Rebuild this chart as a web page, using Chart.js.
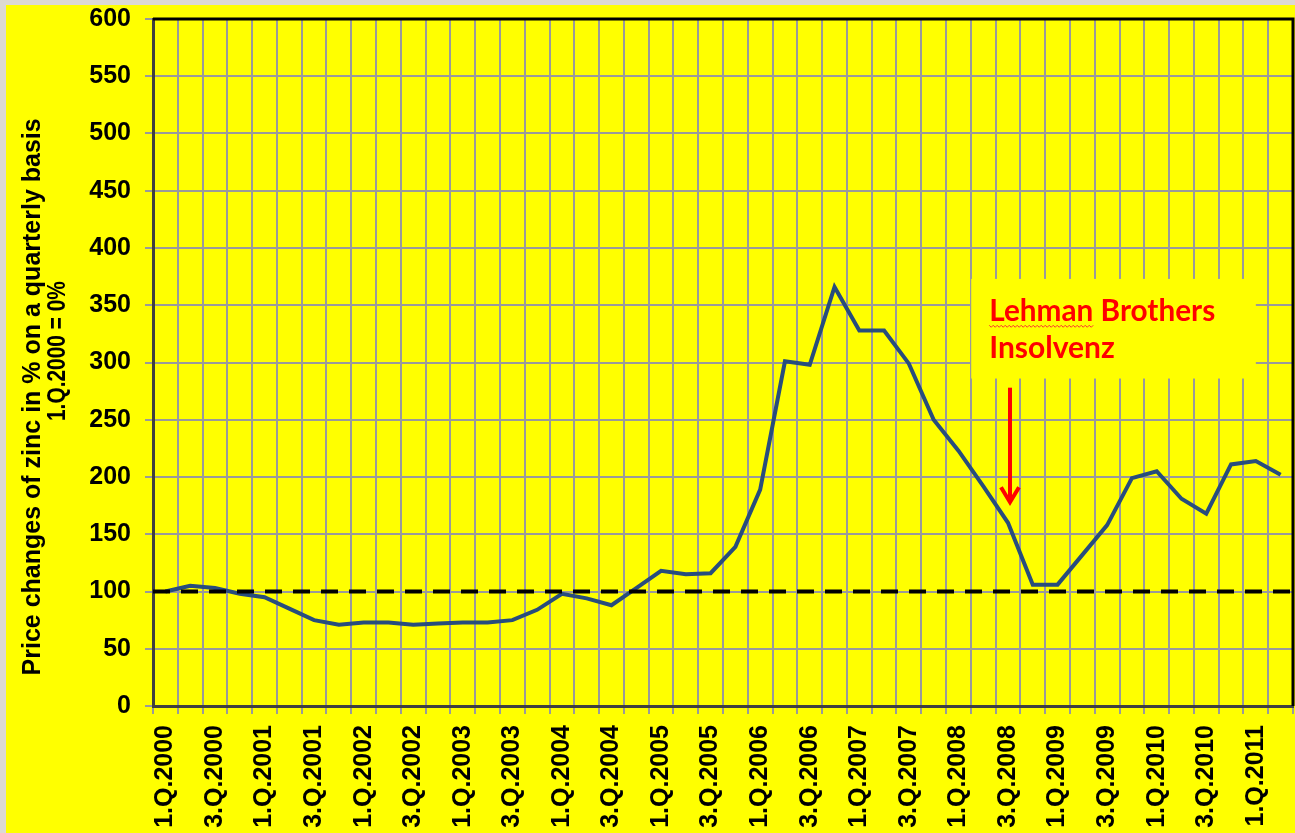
<!DOCTYPE html>
<html>
<head>
<meta charset="utf-8">
<title>Price changes of zinc</title>
<script src="https://cdn.jsdelivr.net/npm/chart.js@4.4.1/dist/chart.umd.min.js"></script>
<style>
  html, body { margin: 0; padding: 0; background: #ffff00; }
  canvas { display: block; }
</style>
</head>
<body>
<canvas id="zincChart" width="1295" height="833"></canvas>
<script>
// -----------------------------
// data
// -----------------------------
const quarters = [
  "1.Q.2000", "2.Q.2000", "3.Q.2000", "4.Q.2000",
  "1.Q.2001", "2.Q.2001", "3.Q.2001", "4.Q.2001",
  "1.Q.2002", "2.Q.2002", "3.Q.2002", "4.Q.2002",
  "1.Q.2003", "2.Q.2003", "3.Q.2003", "4.Q.2003",
  "1.Q.2004", "2.Q.2004", "3.Q.2004", "4.Q.2004",
  "1.Q.2005", "2.Q.2005", "3.Q.2005", "4.Q.2005",
  "1.Q.2006", "2.Q.2006", "3.Q.2006", "4.Q.2006",
  "1.Q.2007", "2.Q.2007", "3.Q.2007", "4.Q.2007",
  "1.Q.2008", "2.Q.2008", "3.Q.2008", "4.Q.2008",
  "1.Q.2009", "2.Q.2009", "3.Q.2009", "4.Q.2009",
  "1.Q.2010", "2.Q.2010", "3.Q.2010", "4.Q.2010",
  "1.Q.2011", "2.Q.2011"
];

// price change of zinc, 1.Q.2000 = 100
const zincChange = [
  100, 105, 103, 98, 95, 85, 75, 71, 73, 73,
  71, 72, 73, 73, 75, 84, 98, 94, 88, 103,
  118, 115, 116, 139, 189, 301, 298, 366, 328, 328,
  299, 250, 223, 192, 160, 106, 106, 132, 158, 199,
  205, 181, 168, 211, 214, 202
];

const yMin = 0;
const yMax = 600;
const yStep = 50;
const baseline = 100;

const titleLines = ["Price changes of zinc in % on a quarterly basis", "1.Q.2000 = 0%"];
const noteLines = ["Lehman Brothers", "Insolvenz"];
const noteQuarter = 34; // 3.Q.2008

const axisFont = "Arial, 'Liberation Sans', sans-serif";

// chart.js adds its own label padding, we want the plot box fixed
function noScalePadding(scale) {
  scale.paddingTop = 0;
  scale.paddingBottom = 0;
  scale.paddingLeft = 0;
  scale.paddingRight = 0;
}

// -----------------------------
// plugins
// -----------------------------
const backgroundPlugin = {
  id: "background",
  beforeDraw(chart) {
    const ctx = chart.ctx;
    ctx.save();
    ctx.fillStyle = "#ffff00";
    ctx.fillRect(0, 0, chart.width, chart.height);
    ctx.fillStyle = "#dcd9d3";
    ctx.fillRect(0, 0, chart.width, 5);
    ctx.fillRect(0, 0, 6, chart.height);
    ctx.restore();
  }
};

// dashed 100 line + top/right frame
const baselinePlugin = {
  id: "baseline",
  afterDatasetsDraw(chart) {
    const { ctx, chartArea, scales } = chart;
    const y = scales.y.getPixelForValue(baseline);
    ctx.save();
    ctx.strokeStyle = "#000";
    ctx.lineWidth = 4;
    ctx.setLineDash([17, 11]);
    ctx.beginPath();
    ctx.moveTo(chartArea.left, y);
    ctx.lineTo(chartArea.right, y);
    ctx.stroke();

    ctx.setLineDash([]);
    ctx.lineWidth = 3;
    ctx.beginPath();
    ctx.moveTo(chartArea.left, chartArea.top);
    ctx.lineTo(chartArea.right, chartArea.top);
    ctx.lineTo(chartArea.right, chartArea.bottom);
    ctx.stroke();
    ctx.restore();
  }
};

// y axis title (two lines, not centred on each other)
const titlePlugin = {
  id: "yTitle",
  afterDraw(chart) {
    const ctx = chart.ctx;
    const y = chart.scales.y;
    ctx.save();
    ctx.fillStyle = "#000";
    ctx.font = "bold 25px " + axisFont;
    ctx.textAlign = "center";
    ctx.textBaseline = "middle";
    ctx.translate(33, y.getPixelForValue(270));
    ctx.rotate(-Math.PI / 2);
    ctx.fillText(titleLines[0], 0, 0);
    ctx.restore();

    ctx.save();
    ctx.fillStyle = "#000";
    ctx.font = "bold 25px " + axisFont;
    ctx.textAlign = "center";
    ctx.textBaseline = "middle";
    ctx.translate(58, y.getPixelForValue(310));
    ctx.rotate(-Math.PI / 2);
    ctx.fillText(titleLines[1], 0, 0, 140);
    ctx.restore();
  }
};

// Lehman Brothers text box + red arrow
const notePlugin = {
  id: "note",
  afterDraw(chart) {
    const { ctx, scales } = chart;
    const x = scales.x, y = scales.y;
    const left = x.getPixelForValue(noteQuarter - 1) - 12;
    const right = x.getPixelForValue(noteQuarter + 10);
    const top = y.getPixelForValue(373);
    const bottom = y.getPixelForValue(286);

    ctx.save();
    ctx.fillStyle = "#ffff00";
    ctx.fillRect(left, top, right - left, bottom - top);

    ctx.fillStyle = "#ff0000";
    ctx.font = "bold 30px Lato, 'Open Sans', sans-serif";
    ctx.textAlign = "left";
    ctx.textBaseline = "alphabetic";
    const tx = left + 18;
    const line1 = y.getPixelForValue(336);
    ctx.fillText(noteLines[0], tx, line1, 226);
    ctx.fillText(noteLines[1], tx, y.getPixelForValue(304));

    // spell-check squiggle under "Lehman"
    const w = Math.min(ctx.measureText("Lehman").width, 110);
    ctx.strokeStyle = "#ff3030";
    ctx.lineWidth = 1;
    ctx.beginPath();
    for (let i = 0; i <= w; i += 2) {
      const yy = line1 + 4 + (i % 4 === 0 ? 0 : 2);
      if (i === 0) ctx.moveTo(tx + i, yy);
      else ctx.lineTo(tx + i, yy);
    }
    ctx.stroke();

    // arrow
    const ax = x.getPixelForValue(noteQuarter) + 2;
    const ay1 = y.getPixelForValue(278);
    const ay2 = y.getPixelForValue(178);
    ctx.strokeStyle = "#ff0000";
    ctx.lineWidth = 4;
    ctx.beginPath();
    ctx.moveTo(ax, ay1);
    ctx.lineTo(ax, ay2);
    ctx.stroke();
    ctx.beginPath();
    ctx.moveTo(ax - 9, ay2 - 15);
    ctx.lineTo(ax, ay2);
    ctx.lineTo(ax + 9, ay2 - 15);
    ctx.stroke();
    ctx.restore();
  }
};

// -----------------------------
// chart
// -----------------------------
new Chart(document.getElementById("zincChart"), {
  type: "line",
  data: {
    labels: quarters,
    datasets: [{
      data: zincChange,
      borderColor: "#284d7d",
      borderWidth: 4,
      pointRadius: 0,
      tension: 0,
      fill: false
    }]
  },
  options: {
    responsive: false,
    animation: false,
    devicePixelRatio: 1,
    layout: { padding: { left: 6, top: 19, right: 2, bottom: 0 } },
    plugins: {
      legend: { display: false },
      tooltip: { enabled: false }
    },
    scales: {
      x: {
        offset: true,
        grid: { offset: true, color: "#9a9a9a", lineWidth: 2, tickLength: 8, tickColor: "#9a9a9a" },
        border: { color: "#404040", width: 3 },
        ticks: {
          autoSkip: false,
          minRotation: 90,
          maxRotation: 90,
          padding: 11,
          color: "#000",
          font: { family: axisFont, size: 25, weight: "bold" },
          callback: (value, index) => (index % 2 === 0 ? quarters[index] : "")
        },
        afterFit(scale) {
          scale.height = 127;
          noScalePadding(scale);
        }
      },
      y: {
        min: yMin,
        max: yMax,
        grid: { color: "#9a9a9a", lineWidth: 2, tickLength: 8, tickColor: "#9a9a9a" },
        border: { color: "#404040", width: 3 },
        ticks: {
          stepSize: yStep,
          padding: 14,
          color: "#000",
          font: { family: axisFont, size: 25, weight: "bold" }
        },
        afterFit(scale) {
          scale.width = 147;
          noScalePadding(scale);
        }
      }
    }
  },
  plugins: [backgroundPlugin, baselinePlugin, titlePlugin, notePlugin]
});
</script>
</body>
</html>
